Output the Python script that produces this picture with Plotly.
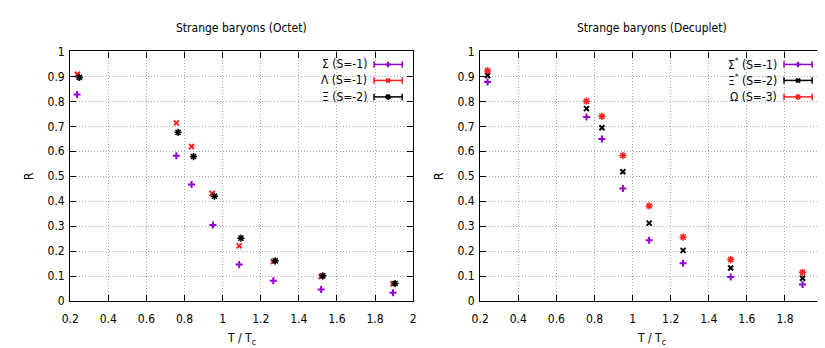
import plotly.graph_objects as go

# ---- data ----
oct_sigma_x = [0.236, 0.757, 0.837, 0.949, 1.087, 1.266, 1.517, 1.894]
oct_sigma_y = [0.828, 0.582, 0.467, 0.305, 0.146, 0.081, 0.046, 0.033]
oct_lambda_x = [0.238, 0.757, 0.837, 0.945, 1.087, 1.266, 1.517, 1.894]
oct_lambda_y = [0.909, 0.714, 0.619, 0.431, 0.221, 0.158, 0.098, 0.069]
oct_xi_x = [0.248, 0.766, 0.847, 0.957, 1.096, 1.276, 1.526, 1.905]
oct_xi_y = [0.896, 0.676, 0.579, 0.420, 0.252, 0.161, 0.101, 0.070]

dec_x = [0.239, 0.758, 0.839, 0.949, 1.087, 1.265, 1.515, 1.892]
dec_sigma_y = [0.878, 0.737, 0.649, 0.451, 0.243, 0.151, 0.096, 0.066]
dec_xi_y = [0.904, 0.771, 0.694, 0.518, 0.312, 0.203, 0.132, 0.091]
dec_omega_y = [0.923, 0.801, 0.740, 0.583, 0.381, 0.256, 0.166, 0.115]

x_ticks = [0.2, 0.4, 0.6, 0.8, 1.0, 1.2, 1.4, 1.6, 1.8, 2.0]
x_tick_text = ["0.2", "0.4", "0.6", "0.8", "1", "1.2", "1.4", "1.6", "1.8", "2"]
y_ticks = [0, 0.1, 0.2, 0.3, 0.4, 0.5, 0.6, 0.7, 0.8, 0.9, 1.0]
y_tick_text = ["0", "0.1", "0.2", "0.3", "0.4", "0.5", "0.6", "0.7", "0.8", "0.9", "1"]

titles = ["Strange baryons (Octet)", "Strange baryons (Decuplet)"]
oct_names = ["Σ (S=-1)", "Λ (S=-1)", "Ξ (S=-2)"]
dec_names = ["Σ<sup>*</sup> (S=-1)", "Ξ<sup>*</sup> (S=-2)", "Ω (S=-3)"]

PURPLE = "#9400D3"
RED = "#FF2020"
BLACK = "#000000"
FONT = "DejaVu Sans Condensed, Liberation Sans Narrow, DejaVu Sans, sans-serif"

W, H = 825, 348
# plot-area pixel boxes
L1, R1 = 54, 402
L2, R2 = 470, 818
TOP, BOT = 38, 298

fig = go.Figure()

def mk(symbol, color, size=5, width=2):
    return dict(symbol=symbol, size=size, color=color, line=dict(color=color, width=width))

oct_series = [
    (oct_sigma_x, oct_sigma_y, "cross-thin-open", PURPLE, 5, 2),
    (oct_lambda_x, oct_lambda_y, "x-thin-open", RED, 5, 2),
    (oct_xi_x, oct_xi_y, "asterisk-open", BLACK, 6, 1.5),
]
dec_series = [
    (dec_x, dec_sigma_y, "cross-thin-open", PURPLE, 5, 2),
    (dec_x, dec_xi_y, "x-thin-open", BLACK, 5, 2),
    (dec_x, dec_omega_y, "asterisk-open", RED, 6, 1.5),
]

for (xs, ys, sym, col, sz, lw) in oct_series:
    fig.add_trace(go.Scatter(x=xs, y=ys, mode="markers", marker=mk(sym, col, sz, lw),
                             xaxis="x", yaxis="y", showlegend=False, cliponaxis=False))
for (xs, ys, sym, col, sz, lw) in dec_series:
    fig.add_trace(go.Scatter(x=xs, y=ys, mode="markers", marker=mk(sym, col, sz, lw),
                             xaxis="x2", yaxis="y2", showlegend=False, cliponaxis=False))

# custom gnuplot-like key (text left, sample right)
key_rows = [0.948, 0.884, 0.818]
annotations = []
shapes = []

def add_key(names, series, xa, ya, ov_x, ov_y):
    x0, x1 = 0.886, 0.968
    xm = (x0 + x1) / 2
    for name, (xs, ys, sym, col, sz, lw), ky in zip(names, series, key_rows):
        annotations.append(dict(text=name, x=0.870, y=ky, xref=xa + " domain", yref=ya + " domain",
                                xanchor="right", yanchor="middle", showarrow=False,
                                font=dict(size=12, color="black", family=FONT)))
        shapes.append(dict(type="line", xref=xa + " domain", yref=ya + " domain",
                           x0=x0, x1=x1, y0=ky, y1=ky, line=dict(color=col, width=1.5)))
        for xe in (x0, x1):
            shapes.append(dict(type="line", xref=xa + " domain", yref=ya + " domain",
                               x0=xe, x1=xe, y0=ky - 0.013, y1=ky + 0.013, line=dict(color=col, width=1.5)))
        fig.add_trace(go.Scatter(x=[xm], y=[ky], mode="markers", marker=mk(sym, col, sz - 1, lw),
                                 xaxis=ov_x, yaxis=ov_y, showlegend=False, hoverinfo="skip"))

add_key(oct_names, oct_series, "x", "y", "x3", "y3")
add_key(dec_names, dec_series, "x2", "y2", "x4", "y4")

axis_common = dict(
    showline=True, linecolor="black", linewidth=1.2, mirror="ticks",
    ticks="inside", ticklen=6, tickcolor="black", tickwidth=1,
    showgrid=True, gridcolor="#a8a8a8", griddash="1px,2px", gridwidth=1,
    zeroline=False, tickfont=dict(size=12, color="black", family=FONT),
)

fig.update_layout(
    width=W, height=H,
    margin=dict(l=0, r=0, t=0, b=0),
    paper_bgcolor="white", plot_bgcolor="white",
    font=dict(family=FONT, color="black", size=12),
    xaxis=dict(domain=[L1 / W, R1 / W], range=[0.2, 2], tickvals=x_ticks, ticktext=x_tick_text,
               anchor="y", ticklabelstandoff=6, **axis_common),
    yaxis=dict(domain=[1 - BOT / H, 1 - TOP / H], range=[0, 1], tickvals=y_ticks, ticktext=y_tick_text,
               anchor="x", ticklabelstandoff=2, **axis_common),
    xaxis2=dict(domain=[L2 / W, R2 / W], range=[0.2, 2], tickvals=x_ticks, ticktext=x_tick_text,
                anchor="y2", ticklabelstandoff=6, **axis_common),
    yaxis2=dict(domain=[1 - BOT / H, 1 - TOP / H], range=[0, 1], tickvals=y_ticks, ticktext=y_tick_text,
                anchor="x2", ticklabelstandoff=2, **axis_common),
    xaxis3=dict(overlaying="x", range=[0, 1], visible=False),
    yaxis3=dict(overlaying="y", range=[0, 1], visible=False),
    xaxis4=dict(overlaying="x2", range=[0, 1], visible=False),
    yaxis4=dict(overlaying="y2", range=[0, 1], visible=False),
)

# titles and axis labels
for (xc, t) in zip([(L1 + R1) / 2 / W, (L2 + R2) / 2 / W], titles):
    annotations.append(dict(text=t, x=xc, y=1 - 14 / H, xref="paper", yref="paper",
                            xanchor="center", yanchor="middle", showarrow=False,
                            font=dict(size=12, family=FONT, color="black")))
    annotations.append(dict(text="T / T<sub>c</sub>", x=xc, y=1 - 338 / H, xref="paper", yref="paper",
                            xanchor="center", yanchor="middle", showarrow=False,
                            font=dict(size=12, family=FONT, color="black")))
for xl in [12 / W, 428 / W]:
    annotations.append(dict(text="R", x=xl, y=1 - 168 / H, xref="paper", yref="paper",
                            xanchor="center", yanchor="middle", showarrow=False, textangle=-90,
                            font=dict(size=12, family=FONT, color="black")))

fig.update_layout(annotations=annotations, shapes=shapes)
fig.write_html("out.html")
